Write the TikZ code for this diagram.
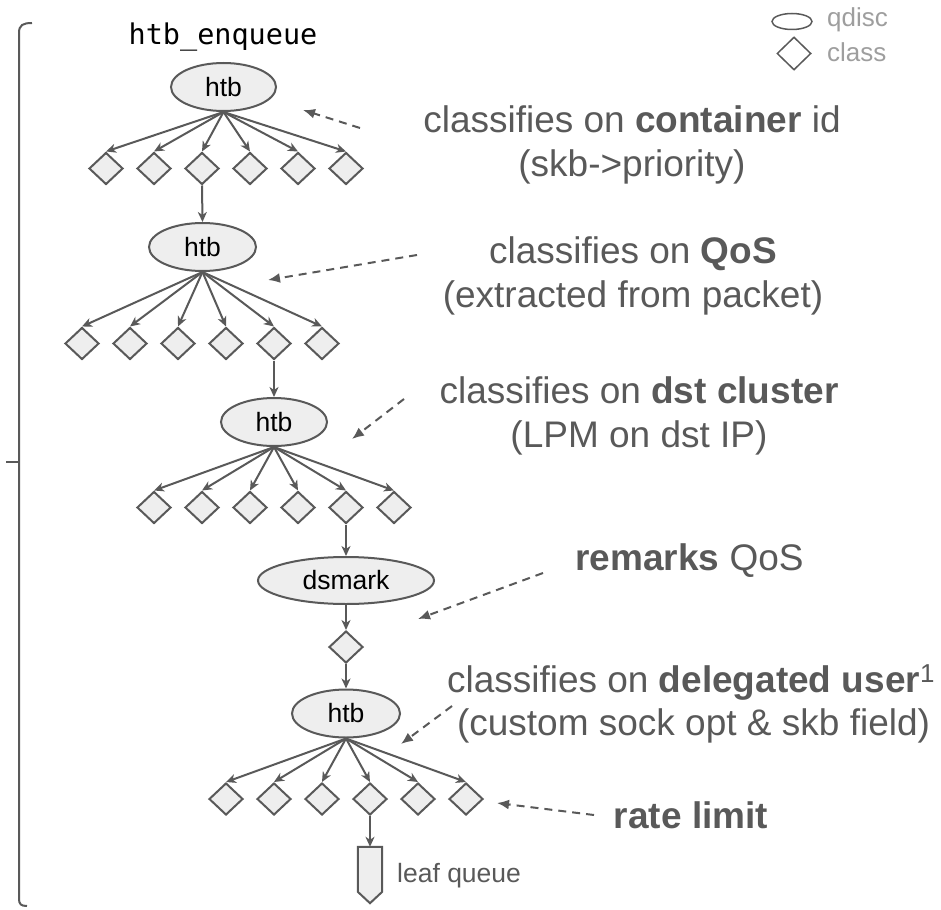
\documentclass[tikz,border=0pt]{standalone}
\usepackage{fontspec}
\setmainfont{Liberation Sans}
\newfontfamily\codefont{DejaVu Sans Mono}
\usetikzlibrary{shapes.geometric,arrows.meta}
\definecolor{ln}{HTML}{595959}
\definecolor{fl}{HTML}{EEEEEE}
\definecolor{lg}{HTML}{9E9E9E}
\tikzset{
  qd/.style={ellipse, draw=ln, fill=fl, line width=2pt, inner sep=0pt, minimum height=48pt, text=black, font=\fontsize{26.5}{30}\selectfont},
  cls/.style={diamond, draw=ln, fill=fl, line width=2pt, inner sep=0pt, minimum width=34pt, minimum height=32pt},
  edge/.style={draw=ln, line width=2pt, -{Stealth[length=10pt,width=9pt,inset=3pt]}},
  dasharrow/.style={draw=ln, line width=2pt, dash pattern=on 8pt off 6pt, -{Latex[length=12pt,width=10pt]}},
  ann/.style={text=ln, font=\fontsize{37}{42}\selectfont, anchor=base, inner sep=0pt},
  legtxt/.style={text=lg, font=\fontsize{26}{30}\selectfont, anchor=west, inner sep=0pt},
}
\begin{document}
\begin{tikzpicture}[x=1pt,y=-1pt]
\useasboundingbox (0,0) rectangle (941,909);

% bracket
\draw[ln, line width=2pt] (32,23) .. controls (23,23) and (19,25) .. (19,33) -- (19,899) .. controls (19,904) and (21,906) .. (27,906);
\draw[ln, line width=2pt] (6,462) -- (19,462);

% title
\node[anchor=base, inner sep=0pt, font=\codefont\fontsize{28.5}{32}\selectfont] (title) at (223,45) {htb\_enqueue};

% legend
\node[ellipse, draw=ln, line width=1.5pt, inner sep=0pt, minimum width=40pt, minimum height=16pt] (legq) at (792,21.5) {};
\node[diamond, draw=ln, line width=1.5pt, inner sep=0pt, minimum width=34pt, minimum height=33pt] (legc) at (794,53.5) {};
\node[legtxt] (legqt) at (827,20) {qdisc};
\node[legtxt] (legct) at (827,52) {class};

% level 1
\node[qd, minimum width=105pt] (h1) at (223.5,87) {htb};
\foreach \i/\x in {1/106,2/154,3/202,4/250,5/298,6/346}{
  \node[cls] (a\i) at (\x,168.5) {};
  \draw[edge] (h1.south) -- (a\i.north);
}
% level 2
\node[qd, minimum width=107pt] (h2) at (202.5,247) {htb};
\draw[edge] (a3.south) -- (h2.north);
\foreach \i/\x in {1/82,2/130,3/178,4/226,5/274,6/322}{
  \node[cls] (b\i) at (\x,343.5) {};
  \draw[edge] (h2.south) -- (b\i.north);
}
% level 3
\node[qd, minimum width=106pt] (h3) at (274,422) {htb};
\draw[edge] (b5.south) -- (h3.north);
\foreach \i/\x in {1/154,2/202,3/250,4/298,5/346,6/394}{
  \node[cls] (c\i) at (\x,507.5) {};
  \draw[edge] (h3.south) -- (c\i.north);
}
% dsmark
\node[qd, minimum width=176pt, minimum height=47pt] (ds) at (346,580.5) {dsmark};
\draw[edge] (c5.south) -- (ds.north);
\node[cls] (dd) at (346,647) {};
\draw[edge] (ds.south) -- (dd.north);
% level 4
\node[qd, minimum width=108pt] (h4) at (346,713.5) {htb};
\draw[edge] (dd.south) -- (h4.north);
\foreach \i/\x in {1/226,2/274,3/322,4/370,5/418,6/466}{
  \node[cls] (e\i) at (\x,799) {};
  \draw[edge] (h4.south) -- (e\i.north);
}
% leaf queue
\node[inner sep=0pt, minimum width=24pt, minimum height=56pt] (leaf) at (370,875) {};
\draw[ln, fill=fl, line width=2pt, line join=miter] (leaf.north west) -- (leaf.north east) -- ([yshift=-45pt]leaf.north east) -- (leaf.south) -- ([yshift=-45pt]leaf.north west) -- cycle;
\draw[edge] (e4.south) -- (leaf.north);
\node[anchor=base west, inner sep=0pt, text=ln, font=\fontsize{26.5}{30}\selectfont] (leaft) at (397,882) {leaf queue};

% annotations
\node[ann] (t1a) at (632,133) {classifies on \textbf{container} id};
\node[ann] (t1b) at (632,177) {(skb->priority)};
\node[ann] (t2a) at (633,263) {classifies on \textbf{QoS}};
\node[ann] (t2b) at (633,307) {(extracted from packet)};
\node[ann] (t3a) at (639,403) {classifies on \textbf{dst cluster}};
\node[ann] (t3b) at (639,447) {(LPM on dst IP)};
\node[ann] (t4) at (689.5,570) {\textbf{remarks} QoS};
\node[ann] (t5a) at (691,692) {classifies on \textbf{delegated user}\textsuperscript{1}};
\node[ann] (t5b) at (693.5,735) {(custom sock opt \& skb field)};
\node[ann] (t6) at (691,828) {\textbf{rate limit}};

% dashed arrows
\coordinate (p1s) at (360,128); \coordinate (p1e) at (303,110);
\coordinate (p2s) at (417,255); \coordinate (p2e) at (268,280);
\coordinate (p3s) at (404,399); \coordinate (p3e) at (352,439);
\coordinate (p4s) at (543,573); \coordinate (p4e) at (418,619);
\coordinate (p5s) at (452,706); \coordinate (p5e) at (401,744);
\coordinate (p6s) at (594,815); \coordinate (p6e) at (497,803);
\foreach \k in {1,...,6}{ \draw[dasharrow] (p\k s) -- (p\k e); }
\end{tikzpicture}
\end{document}
